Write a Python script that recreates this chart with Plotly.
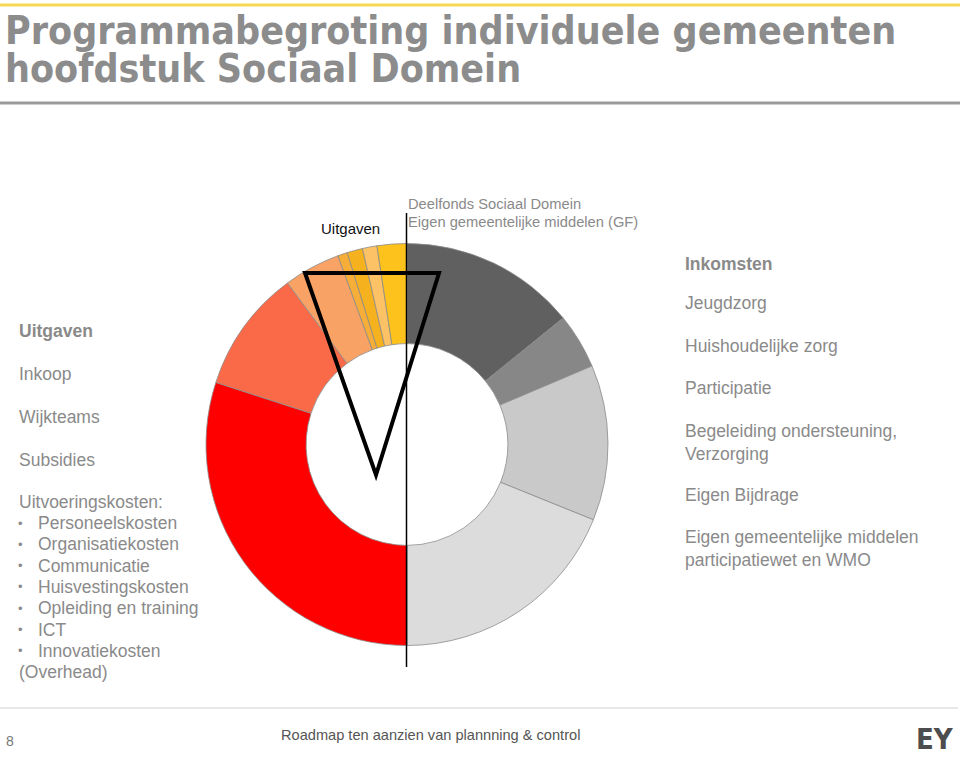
import plotly.graph_objects as go

W, H = 960, 758

# ---- data (slice sizes, in degrees of the ring) ----
slice_labels = [
    "Jeugdzorg", "Huishoudelijke zorg", "Participatie", "Begeleiding ondersteuning, Verzorging",
    "Inkoop", "Wijkteams", "Subsidies", "Personeelskosten", "Organisatiekosten",
    "Huisvestingskosten", "Overige uitvoeringskosten",
]
slice_values = [51, 16, 45, 68, 108, 35.5, 16.4, 2.8, 4.5, 4.2, 8.6]

left_legend = ["Uitgaven", "Inkoop", "Wijkteams", "Subsidies", "Uitvoeringskosten:"]
left_bullets = ["Personeelskosten", "Organisatiekosten", "Communicatie", "Huisvestingskosten",
                "Opleiding en training", "ICT", "Innovatiekosten"]
left_tail = "(Overhead)"
right_legend = ["Inkomsten", "Jeugdzorg", "Huishoudelijke zorg", "Participatie",
                "Begeleiding ondersteuning,<br>Verzorging", "Eigen Bijdrage",
                "Eigen gemeentelijke middelen<br>participatiewet en WMO"]
title_lines = ["Programmabegroting individuele gemeenten", "hoofdstuk Sociaal Domein"]

# ---- styles ----
slice_colors = ["#606060", "#878787", "#c9c9c9", "#dcdcdc",
                "#ff0000", "#fb6a48", "#f9a265", "#f7ae38", "#f6b11e", "#fcc265", "#fec21c"]
GREY_TXT = "#8a8a8a"
FONT = "Liberation Sans, Arial, sans-serif"
TFONT = "DejaVu Sans Condensed, DejaVu Sans, sans-serif"


def px(x):
    return x / W


def py(y):
    return 1 - y / H


cx, cy, R = 407, 444.5, 201

fig = go.Figure(go.Pie(
    labels=slice_labels, values=slice_values, sort=False, direction="clockwise",
    rotation=0, hole=0.502, textinfo="none", hoverinfo="label+percent",
    marker=dict(colors=slice_colors, line=dict(color="#8c8c8c", width=0.8)),
    domain=dict(x=[px(cx - R), px(cx + R)], y=[py(cy + R), py(cy - R)]),
    showlegend=False,
))

ann = []


def text(x, y, s, size=17.5, color=GREY_TXT, bold=False, family=FONT, xanchor="left", yanchor="middle"):
    ann.append(dict(x=px(x), y=py(y), xref="paper", yref="paper", text=f"<b>{s}</b>" if bold else s,
                    showarrow=False, xanchor=xanchor, yanchor=yanchor, align="left",
                    font=dict(size=size, color=color, family=family)))


# title
text(3, 31, title_lines[0], size=39, color="#8c8c8c", bold=True, family=TFONT)
text(3, 68, title_lines[1], size=39, color="#8c8c8c", bold=True, family=TFONT)

# left legend
ys = [331, 374, 417, 460, 502]
for i, (s, y) in enumerate(zip(left_legend, ys)):
    text(17, y, s, bold=(i == 0))
for i, s in enumerate(left_bullets):
    y = 523 + i * 21.3
    text(16, y, "•", size=13)
    text(36, y, s)
text(17, 672, left_tail)

# right legend
rys = [264, 303, 346, 388, 442, 495, 548]
for i, (s, y) in enumerate(zip(right_legend, rys)):
    text(683, y, s, bold=(i == 0))

# top labels
text(382, 228, "Uitgaven", size=15, color="#111111", xanchor="right")
text(406, 204, "Deelfonds Sociaal Domein", size=14.7, color="#8a8a8a")
text(406, 222, "Eigen gemeentelijke middelen (GF)", size=14.7, color="#8a8a8a")

# footer
text(4, 741, "8", size=14, color="#777777")
text(279, 735, "Roadmap ten aanzien van plannning & control", size=14.6, color="#555555")
text(956, 739, "EY", size=29, color="#4d4d4f", bold=True, xanchor="right", family=TFONT)

shapes = [
    dict(type="line", xref="paper", yref="paper", x0=0, x1=1, y0=py(5), y1=py(5),
         line=dict(color="#f5d955", width=3)),
    dict(type="line", xref="paper", yref="paper", x0=0, x1=1, y0=py(103), y1=py(103),
         line=dict(color="#9a9a9a", width=3)),
    dict(type="line", xref="paper", yref="paper", x0=0, x1=px(958), y0=py(708), y1=py(708),
         line=dict(color="#d0d0d0", width=1)),
    dict(type="path", xref="paper", yref="paper",
         path=f"M {px(305)} {py(273)} L {px(439)} {py(273)} L {px(376)} {py(475)} Z",
         line=dict(color="#000000", width=4)),
    dict(type="line", xref="paper", yref="paper", x0=px(406.5), x1=px(406.5), y0=py(213), y1=py(667),
         line=dict(color="#000000", width=1.5)),
]

fig.update_layout(width=W, height=H, margin=dict(l=0, r=0, t=0, b=0),
                  paper_bgcolor="white", plot_bgcolor="white",
                  annotations=ann, shapes=shapes)

fig.write_html("out.html")
